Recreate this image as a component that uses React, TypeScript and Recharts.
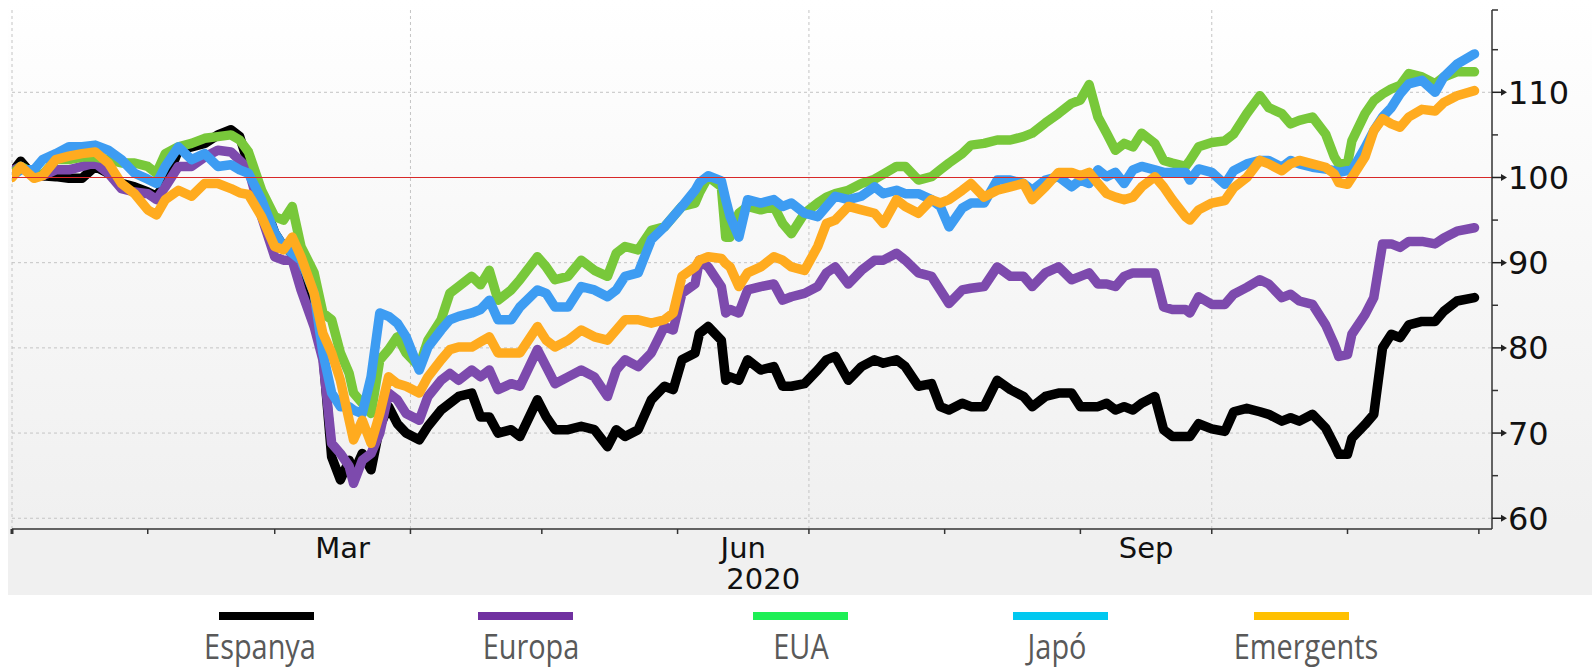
import { CartesianGrid, Line, LineChart, ReferenceLine, XAxis, YAxis } from "recharts";

// day of 2020 (0 = 1 Jan)
const days = [
  0, 2, 5, 7, 10, 13, 16, 19, 22, 25,
  28, 31, 33, 35, 38, 41, 44, 47, 50, 52,
  54, 57, 60, 62, 64, 66, 69, 71, 73, 75,
  77, 78, 80, 82, 84, 86, 88, 90, 93, 95,
  98, 100, 102, 105, 107, 109, 111, 114, 116, 120,
  122, 124, 127, 130, 133, 136, 138, 140, 143, 146,
  149, 151, 153, 156, 157, 159, 162, 163, 164, 166,
  168, 171, 174, 176, 178, 181, 184, 186, 188, 191,
  194, 197, 199, 202, 204, 207, 210, 212, 214, 217,
  219, 222, 225, 228, 231, 233, 236, 239, 242, 244,
  246, 248, 250, 252, 254, 256, 258, 261, 263, 265,
  268, 269, 271, 274, 277, 279, 282, 285, 287, 290,
  292, 294, 297, 300, 302, 303, 305, 306, 309, 311,
  313, 315, 317, 319, 322, 325, 327, 330, 334,
];

const espanya = [
  100.6, 101.9, 100.1, 100.2, 100.1, 99.9, 99.9, 101.3, 100.5, 99.3,
  98.9, 98.3, 97.8, 99.3, 103.2, 103.6, 104.0, 105.0, 105.6, 104.8,
  101.5, 97.8, 93.5, 91.9, 91.1, 88.4, 84.1, 79.4, 67.2, 64.5,
  66.8, 65.3, 67.6, 65.7, 70.8, 73.1, 71.1, 70.0, 69.2, 70.8,
  72.7, 73.5, 74.3, 74.7, 71.9, 71.9, 70.0, 70.4, 69.6, 73.9,
  71.9, 70.4, 70.4, 70.8, 70.4, 68.4, 70.4, 69.6, 70.4, 73.9,
  75.5, 75.1, 78.6, 79.4, 81.7, 82.5, 80.9, 76.2, 76.6, 76.2,
  78.6, 77.4, 77.8, 75.5, 75.5, 75.8, 77.4, 78.6, 79.0, 76.2,
  77.8, 78.6, 78.2, 78.6, 77.8, 75.5, 75.8, 73.1, 72.7, 73.5,
  73.1, 73.1, 76.2, 75.1, 74.3, 73.1, 74.3, 74.7, 74.7, 73.1,
  73.1, 73.1, 73.5, 72.7, 73.1, 72.7, 73.5, 74.3, 70.4, 69.6,
  69.6, 69.6, 71.1, 70.5, 70.2, 72.5, 72.9, 72.5, 72.2, 71.4,
  71.8, 71.4, 72.2, 70.6, 68.6, 67.5, 67.5, 69.4, 71.0, 72.2,
  80.0, 81.6, 81.2, 82.7, 83.1, 83.1, 84.3, 85.5, 85.9,
];

const europa = [
  100.8, 101.3, 100.3, 100.2, 100.9, 100.9, 101.3, 101.7, 100.5, 98.7,
  98.3, 98.1, 97.4, 98.9, 101.3, 101.3, 102.4, 103.2, 103.0, 102.0,
  101.0, 95.4, 90.7, 90.3, 90.3, 86.8, 82.5, 78.6, 68.8, 67.6,
  66.1, 64.1, 66.8, 67.6, 70.0, 74.7, 73.9, 72.3, 71.5, 74.3,
  76.2, 77.0, 76.2, 77.4, 76.6, 77.4, 75.1, 75.8, 75.5, 79.8,
  77.8, 75.8, 76.6, 77.4, 76.6, 74.3, 77.4, 78.6, 77.8, 79.4,
  82.5, 82.1, 86.4, 87.5, 90.3, 89.5, 87.2, 84.1, 84.5, 84.1,
  86.8, 87.2, 87.5, 85.6, 86.0, 86.4, 87.2, 88.8, 89.5, 87.5,
  89.1, 90.3, 90.3, 91.1, 90.3, 88.8, 88.4, 86.8, 85.2, 86.8,
  87.0, 87.2, 89.5, 88.4, 88.4, 87.2, 88.8, 89.5, 88.0, 88.4,
  88.8, 87.5, 87.5, 87.2, 88.4, 88.8, 88.8, 88.8, 84.8, 84.5,
  84.5, 84.1, 86.0, 85.1, 85.1, 86.3, 87.1, 88.0, 87.5, 85.9,
  86.3, 85.5, 85.1, 82.7, 80.4, 79.0, 79.2, 81.6, 83.9, 85.9,
  92.2, 92.2, 91.8, 92.5, 92.5, 92.2, 92.9, 93.7, 94.1,
];

const eua = [
  100.4, 101.3, 100.5, 100.3, 102.1, 102.1, 102.4, 102.4, 102.1, 101.7,
  101.7, 101.3, 100.5, 102.8, 103.6, 104.0, 104.6, 104.8, 105.0, 104.4,
  103.0, 98.5, 95.4, 95.0, 96.6, 91.9, 88.8, 84.1, 83.3, 79.4,
  77.0, 74.7, 73.5, 72.3, 78.6, 79.8, 81.3, 79.4, 77.8, 80.9,
  83.3, 86.4, 87.2, 88.4, 87.4, 89.1, 85.6, 86.8, 88.0, 90.7,
  89.5, 88.0, 88.4, 90.3, 89.1, 88.4, 91.1, 91.9, 91.5, 93.8,
  94.2, 95.4, 96.6, 97.0, 98.2, 100.1, 98.9, 93.0, 93.0, 95.8,
  96.6, 96.2, 96.6, 94.6, 93.4, 95.8, 97.0, 97.7, 98.1, 98.5,
  99.3, 99.8, 100.4, 101.3, 101.3, 99.7, 100.1, 100.9, 101.7, 102.8,
  103.8, 104.0, 104.4, 104.4, 104.8, 105.2, 106.4, 107.5, 108.7, 109.1,
  110.9, 107.1, 105.2, 103.2, 104.0, 103.6, 105.2, 104.0, 102.0, 101.7,
  101.3, 102.0, 103.6, 104.1, 104.3, 105.1, 107.5, 109.6, 108.2, 107.5,
  106.3, 106.7, 107.1, 105.1, 102.4, 101.6, 101.6, 104.3, 107.5, 109.0,
  109.8, 110.4, 110.8, 112.2, 111.8, 111.0, 111.8, 112.4, 112.4,
];

const japo = [
  100.2, 100.9, 100.9, 102.1, 102.8, 103.6, 103.6, 103.8, 103.2, 102.1,
  100.5, 99.8, 99.3, 101.3, 103.6, 102.1, 102.8, 101.3, 101.5, 100.9,
  100.5, 97.4, 93.5, 91.9, 91.1, 90.3, 86.4, 79.4, 74.7, 73.1,
  73.1, 72.7, 72.3, 76.6, 84.1, 83.7, 82.9, 81.3, 77.4, 80.1,
  82.1, 83.3, 83.7, 84.1, 84.5, 85.6, 83.3, 83.3, 84.8, 86.8,
  86.4, 84.8, 84.8, 87.2, 86.8, 86.0, 86.8, 88.4, 88.8, 92.7,
  94.2, 95.4, 96.6, 98.5, 99.4, 100.2, 99.6, 97.4, 95.4, 93.0,
  97.4, 97.0, 97.4, 96.6, 97.0, 95.8, 95.4, 96.6, 97.8, 97.4,
  97.8, 98.9, 98.1, 98.5, 98.1, 98.1, 97.4, 96.6, 94.2, 96.4,
  97.0, 97.0, 99.7, 99.7, 99.3, 98.5, 99.7, 100.1, 98.9, 99.7,
  99.3, 100.9, 100.1, 100.6, 99.3, 100.9, 101.3, 100.9, 100.6, 100.6,
  100.6, 99.7, 101.0, 100.6, 99.2, 100.8, 101.6, 102.0, 102.0, 101.2,
  102.0, 101.6, 101.2, 101.0, 100.8, 100.6, 100.8, 100.8, 103.5, 105.5,
  107.1, 108.2, 109.8, 111.0, 111.4, 110.0, 111.8, 113.3, 114.5,
];

const emergents = [
  100.0, 101.3, 99.9, 100.2, 102.1, 102.5, 102.8, 103.0, 101.7, 99.3,
  98.1, 96.2, 95.6, 97.4, 98.5, 97.8, 99.3, 99.3, 98.7, 98.2,
  98.0, 95.4, 91.9, 91.5, 93.0, 90.7, 86.4, 81.7, 79.4, 76.2,
  71.5, 69.2, 71.5, 68.8, 72.3, 76.6, 75.8, 75.5, 74.7, 76.6,
  78.6, 79.8, 80.1, 80.1, 80.7, 81.3, 79.4, 79.4, 79.4, 82.5,
  80.9, 80.1, 80.9, 82.1, 81.3, 80.9, 82.1, 83.3, 83.3, 82.9,
  83.3, 84.1, 88.4, 89.5, 90.3, 90.7, 90.5, 89.9, 89.5, 87.2,
  88.8, 89.5, 90.7, 90.3, 89.5, 89.1, 91.9, 94.6, 95.0, 96.6,
  96.2, 95.8, 94.6, 97.4, 96.6, 95.8, 97.4, 97.0, 97.4, 98.5,
  99.3, 97.7, 98.5, 98.9, 99.3, 97.4, 98.9, 100.6, 100.6, 100.2,
  100.6, 99.3, 98.1, 97.7, 97.4, 97.7, 98.9, 100.1, 98.9, 97.4,
  95.4, 95.0, 96.2, 97.0, 97.3, 98.8, 100.0, 102.0, 101.6, 100.8,
  101.6, 102.0, 101.6, 101.2, 100.4, 99.4, 99.2, 100.0, 102.4, 105.5,
  106.9, 106.3, 105.9, 107.1, 108.0, 107.8, 108.8, 109.6, 110.2,
];

const series = [
  { key: "espanya", name: "Espanya", values: espanya, color: "#000000", legend: "#000000" },
  { key: "europa", name: "Europa", values: europa, color: "#7d4aad", legend: "#7030a0" },
  { key: "eua", name: "EUA", values: eua, color: "#78c83a", legend: "#1eef55" },
  { key: "japo", name: "Japó", values: japo, color: "#3d9cf2", legend: "#00c8f0" },
  { key: "emergents", name: "Emergents", values: emergents, color: "#ffab1f", legend: "#ffc000" },
];

const monthStarts = [0, 31, 60, 91, 121, 152, 182, 213, 244, 274, 305, 335];
const monthLabels: Record<string, string> = { "75.5": "Mar", "167": "Jun", "259": "Sep" };
const yearLabel = "2020";
const quarterLines = [0, 91, 182, 274];
const yGridValues = [60, 70, 80, 90, 110];
const yTicks = [60, 65, 70, 75, 80, 85, 90, 95, 100, 105, 110, 115, 119.66];
const xDomain = [0, 338];
const yDomain = [58.74, 119.66];

const data = days.map((d, i) => {
  const row: Record<string, number> = { day: d };
  series.forEach((s) => {
    row[s.key] = s.values[i];
  });
  return row;
});

const xTickValues = [...monthStarts, ...Object.keys(monthLabels).map(Number)].sort((a, b) => a - b);

function XTick({ x, y, payload }: any) {
  const v = payload.value;
  const label = monthLabels[String(v)];
  if (label) {
    return (
      <g>
        <text x={x} y={y + 29} textAnchor="middle" fontSize={29} fill="#111" fontFamily="DejaVu Sans">
          {label}
        </text>
        {label === "Jun" && (
          <text x={x + 20} y={y + 60} textAnchor="middle" fontSize={29} fill="#111" fontFamily="DejaVu Sans">
            {yearLabel}
          </text>
        )}
      </g>
    );
  }
  return <line x1={x} x2={x} y1={y} y2={y + 5} stroke="#333" strokeWidth={v === 0 ? 3 : 1.5} />;
}

function YTick({ x, y, payload }: any) {
  const v = payload.value;
  if (v % 10 === 0) {
    return (
      <g>
        <line x1={x} x2={x + 12} y1={y} y2={y} stroke="#222" strokeWidth={1.5} />
        <path d={`M${x + 9},${y - 3.5} L${x + 15},${y} L${x + 9},${y + 3.5} Z`} fill="#222" />
        <text x={x + 16} y={y} dy="0.36em" fontSize={32} fill="#111" fontFamily="DejaVu Sans">
          {v}
        </text>
      </g>
    );
  }
  return <line x1={x} x2={x + 6} y1={y} y2={y} stroke="#333" strokeWidth={1.5} />;
}

const legendLines = [266, 525, 800, 1060, 1301];
const legendText = [260, 531, 801, 1057, 1306];

export default function App() {
  return (
    <div style={{ position: "relative", width: 1592, height: 669, background: "#fff" }}>
      <style>{`body{margin:0}`}</style>
      <div
        style={{
          position: "absolute",
          left: 8,
          top: 0,
          width: 1584,
          height: 595,
          background: "linear-gradient(to bottom, #ffffff 0%, #f7f7f7 45%, #f0f0f0 88%, #f0f0f0 100%)",
        }}
      />
      <div style={{ position: "absolute", left: 0, top: 0 }}>
        <LineChart width={1592} height={595} data={data} margin={{ top: 10, right: 0, bottom: 0, left: 12 }}>
          <CartesianGrid
            stroke="#c4c4c4"
            strokeDasharray="3 3"
            horizontalValues={yGridValues}
            verticalValues={quarterLines}
          />
          <XAxis
            dataKey="day"
            type="number"
            domain={xDomain}
            ticks={xTickValues}
            interval={0}
            tickSize={0}
            tickMargin={0}
            tickLine={false}
            tick={<XTick />}
            height={66}
            axisLine={{ stroke: "#333", strokeWidth: 1.5 }}
            allowDataOverflow
          />
          <YAxis
            orientation="right"
            type="number"
            domain={yDomain}
            ticks={yTicks}
            interval={0}
            tickSize={0}
            tickMargin={0}
            tickLine={false}
            tick={<YTick />}
            width={100}
            axisLine={{ stroke: "#333", strokeWidth: 1.5 }}
            allowDataOverflow
          />
          {series.map((s) => (
            <Line
              key={s.key}
              type="linear"
              dataKey={s.key}
              name={s.name}
              stroke={s.color}
              strokeWidth={9.5}
              strokeLinejoin="round"
              strokeLinecap="round"
              dot={false}
              activeDot={false}
              isAnimationActive={false}
            />
          ))}
          <ReferenceLine y={100} stroke="#d82828" strokeWidth={1.2} />
        </LineChart>
      </div>
      {series.map((s, i) => (
        <div key={s.key}>
          <div
            style={{
              position: "absolute",
              left: legendLines[i] - 47,
              top: 612,
              width: 95,
              height: 8,
              background: s.legend,
            }}
          />
          <div
            style={{
              position: "absolute",
              left: legendText[i] - 100,
              top: 628,
              width: 200,
              textAlign: "center",
              fontFamily: "'Open Sans', sans-serif",
              fontSize: 34,
              lineHeight: "36px",
              color: "#595959",
              transform: "scaleX(0.85)",
            }}
          >
            {s.name}
          </div>
        </div>
      ))}
    </div>
  );
}
